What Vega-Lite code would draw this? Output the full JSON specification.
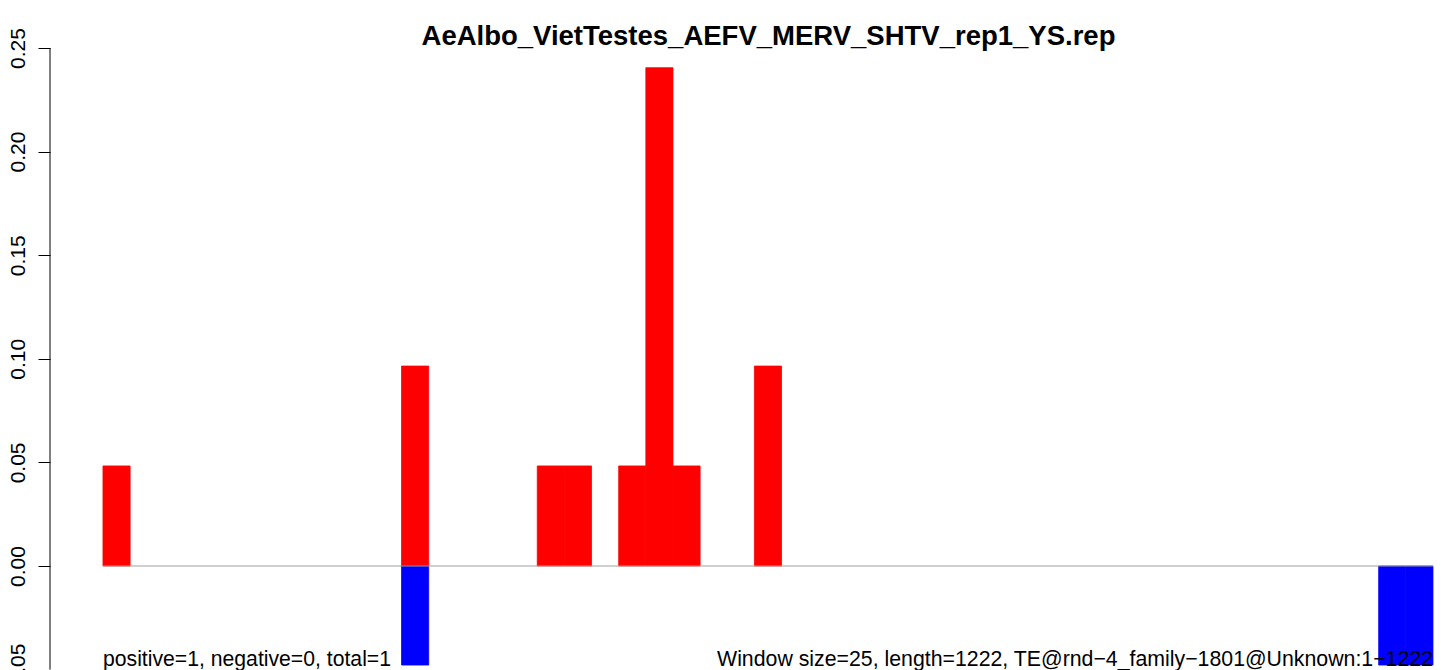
{
  "$schema": "https://vega.github.io/schema/vega-lite/v6.json",
  "width": 1391,
  "height": 670,
  "autosize": {"type": "none"},
  "padding": {"left": 50, "top": 0, "right": 0, "bottom": 0},
  "background": "white",
  "title": {
    "text": "AeAlbo_VietTestes_AEFV_MERV_SHTV_rep1_YS.rep",
    "font": "Liberation Sans",
    "fontSize": 27.5,
    "fontWeight": "bold",
    "color": "black",
    "anchor": "middle",
    "dx": 23,
    "dy": 25,
    "offset": -47,
    "baseline": "alphabetic"
  },
  "config": {
    "view": {"stroke": null},
    "axis": {"grid": false}
  },
  "datasets": {
    "bars": [
      {"start": 0, "end": 25, "value": 0.0483, "strand": "positive"},
      {"start": 275, "end": 300, "value": 0.0965, "strand": "positive"},
      {"start": 400, "end": 425, "value": 0.0483, "strand": "positive"},
      {"start": 425, "end": 450, "value": 0.0483, "strand": "positive"},
      {"start": 475, "end": 500, "value": 0.0483, "strand": "positive"},
      {"start": 500, "end": 525, "value": 0.2405, "strand": "positive"},
      {"start": 525, "end": 550, "value": 0.0483, "strand": "positive"},
      {"start": 600, "end": 625, "value": 0.0965, "strand": "positive"},
      {"start": 275, "end": 300, "value": -0.0478, "strand": "negative"},
      {"start": 1175, "end": 1200, "value": -0.0478, "strand": "negative"},
      {"start": 1200, "end": 1225, "value": -0.0478, "strand": "negative"}
    ]
  },
  "layer": [
    {
      "data": {"name": "bars"},
      "mark": {"type": "rect", "strokeWidth": 0.8},
      "encoding": {
        "x": {
          "field": "start",
          "type": "quantitative",
          "scale": {"domain": [-48.8, 1232.4], "nice": false, "zero": false},
          "axis": null
        },
        "x2": {"field": "end"},
        "y": {
          "field": "value",
          "type": "quantitative",
          "scale": {"domain": [-0.05019, 0.27317], "nice": false, "zero": false},
          "axis": {
            "values": [-0.05, 0, 0.05, 0.1, 0.15, 0.2, 0.25],
            "format": ".2f",
            "title": null,
            "domain": false,
            "ticks": true,
            "tickSize": 12,
            "tickWidth": 1,
            "tickColor": "black",
            "labelAngle": 270,
            "labelAlign": "center",
            "labelBaseline": "alphabetic",
            "labelPadding": 14,
            "labelFont": "Liberation Sans",
            "labelFontSize": 21,
            "labelColor": "black",
            "labelOverlap": false,
            "labelBound": false,
            "labelFlush": false
          }
        },
        "y2": {"datum": 0},
        "color": {
          "field": "strand",
          "type": "nominal",
          "scale": {"domain": ["positive", "negative"], "range": ["#ff0000", "#0000ff"]},
          "legend": null
        },
        "stroke": {
          "field": "strand",
          "type": "nominal",
          "scale": {"domain": ["positive", "negative"], "range": ["#ff0000", "#0000ff"]},
          "legend": null
        }
      }
    },
    {
      "data": {"values": [{"from": 0, "to": 1225}]},
      "mark": {"type": "rule", "color": "#a0a0a0", "strokeWidth": 1.2},
      "encoding": {
        "x": {"field": "from", "type": "quantitative"},
        "x2": {"field": "to"},
        "y": {"datum": 0}
      }
    },
    {
      "data": {"values": [{"lo": -0.05, "hi": 0.25}]},
      "mark": {"type": "rule", "color": "black", "strokeWidth": 1},
      "encoding": {
        "x": {"datum": -48.8},
        "y": {"field": "lo", "type": "quantitative"},
        "y2": {"field": "hi"}
      }
    },
    {
      "data": {"values": [{"label": "positive=1, negative=0, total=1"}]},
      "mark": {"type": "text", "align": "left", "baseline": "alphabetic", "font": "Liberation Sans", "fontSize": 21.2, "color": "black"},
      "encoding": {
        "x": {"datum": 0},
        "y": {"datum": -0.0483},
        "text": {"field": "label"}
      }
    },
    {
      "data": {"values": [{"label": "Window size=25, length=1222, TE@rnd\u22124_family\u22121801@Unknown:1\u22121222"}]},
      "mark": {"type": "text", "align": "right", "baseline": "alphabetic", "font": "Liberation Sans", "fontSize": 21.3, "color": "black"},
      "encoding": {
        "x": {"datum": 1225},
        "y": {"datum": -0.0483},
        "text": {"field": "label"}
      }
    }
  ]
}
